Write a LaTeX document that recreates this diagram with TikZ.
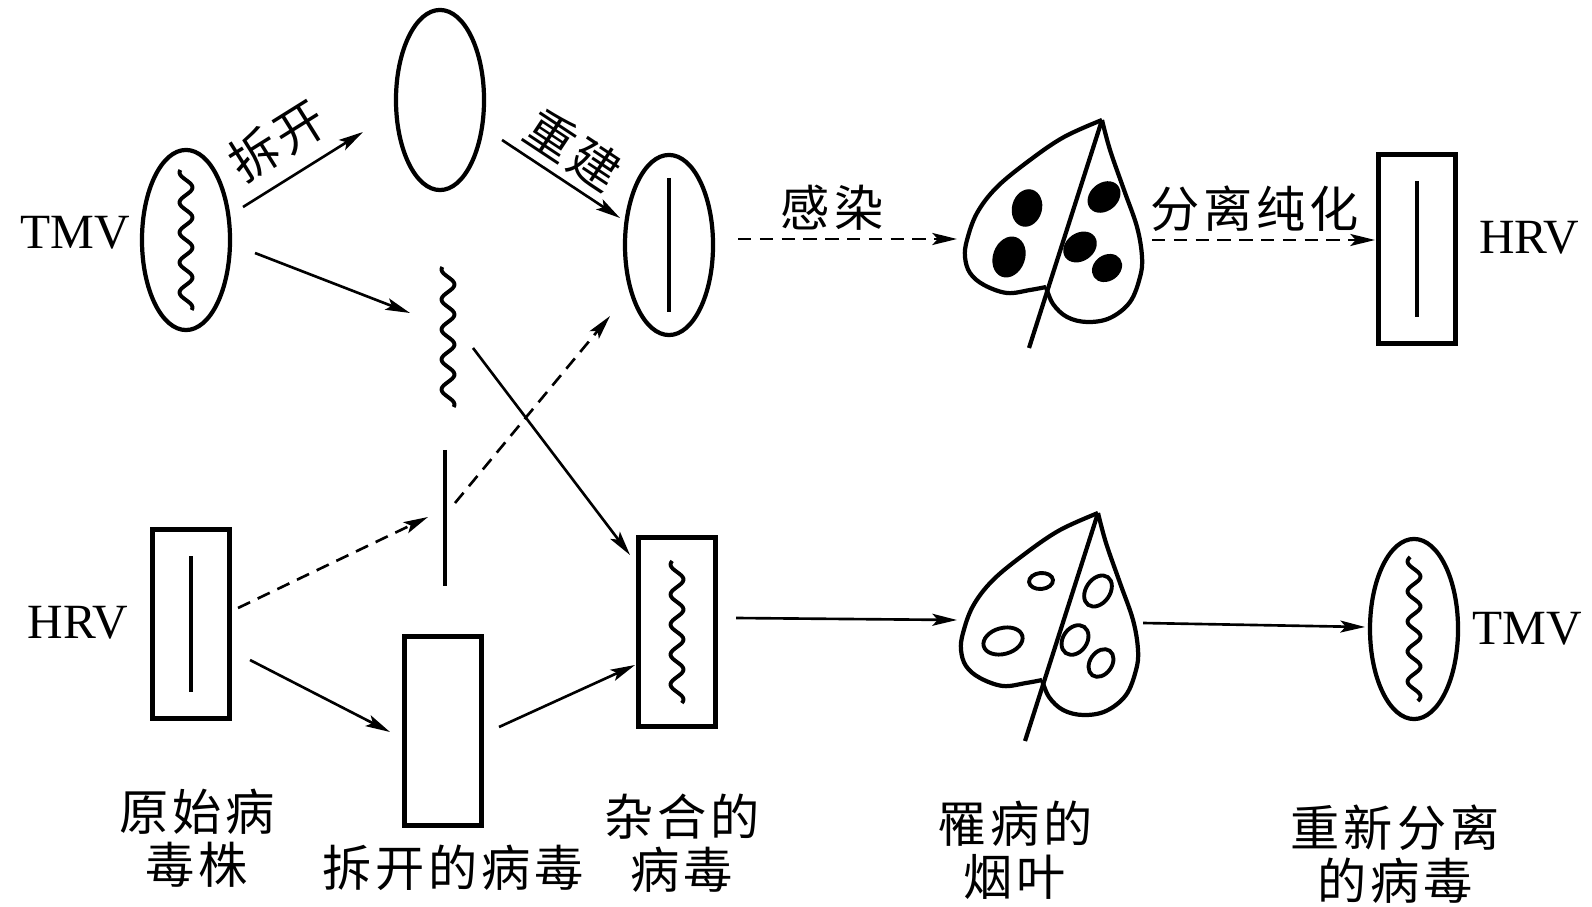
\documentclass[tikz,border=0pt]{standalone}
\usepackage{fontspec}
\setmainfont{Liberation Serif}
\newfontfamily\cjk[LetterSpace=8]{Noto Sans CJK SC}
\usetikzlibrary{arrows.meta,positioning,shapes.geometric}

\tikzset{
  shell/.style={draw, line width=1.2pt, inner sep=0pt, minimum width=0.88cm, minimum height=1.8cm},
  rod/.style={shell, ellipse},
  box/.style={shell, rectangle, minimum width=0.77cm, minimum height=1.89cm},
  rna/.style={line width=1.1pt},
  arr/.style={line width=0.75pt, -{Stealth[length=7pt, width=3.4pt, inset=1.5pt]}},
  darr/.style={arr, dash pattern=on 3.8pt off 2.4pt},
  lab/.style={font=\cjk\fontsize{14}{15.1}\selectfont, inner sep=0pt, align=center},
  virus/.style={font=\fontsize{14}{16}\selectfont, inner sep=0pt},
  leafline/.style={line width=1.2pt, line join=round},
}

% wavy RNA (TMV) and straight RNA (HRV), centred on a node or coordinate
\newcommand{\wavy}[2]{\draw[rna, shift={(#1)}] plot[domain=-#2:#2, samples=90, smooth] ({6.5*sin(12*\x)}, \x);}
\newcommand{\straight}[2]{\draw[rna] ([shift={(0,-#2)}]#1) -- ([shift={(0,#2)}]#1);}

% tobacco leaf, drawn from its tip
\newcommand{\leaf}[1]{%
  \begin{scope}[shift={(#1)}, leafline]
    \draw plot[smooth, tension=0.6] coordinates {(0,0) (-38,17) (-72,40) (-105,67) (-125,93) (-135,120) (-137,137) (-132,153) (-118,165) (-95,173) (-72,170) (-56,167)};
    \draw plot[smooth, tension=0.6] coordinates {(-56,167) (-49,184) (-35,197) (-15,202) (8,198) (28,182) (38,157) (40,137) (35,107) (22,70) (8,30) (0,0)};
    \draw (0,0) -- (-73,228);
  \end{scope}}

\begin{document}
\begin{tikzpicture}[x=0.01cm, y=-0.01cm]
\useasboundingbox (0,0) rectangle (1592,907);

% virus particles
\node[rod] (tmvA) at (186,240) {};
\node[rod] (coatA) at (440,100) {};
\node[rod] (mixA) at (669,245) {};
\node[box] (hrvA) at (191,624) {};
\node[box] (coatB) at (443,731) {};
\node[box] (mixB) at (677,632) {};
\node[box] (hrvB) at (1417,249) {};
\node[rod] (tmvB) at (1414,629) {};

% free RNA and leaf tips
\coordinate (rnaA) at (448,337);
\coordinate (rnaB) at (445,518);
\coordinate (leafA) at (1102,120);
\coordinate (leafB) at (1098,513);

\wavy{tmvA.center}{70}
\wavy{rnaA}{70}
\wavy{mixB.center}{71}
\wavy{tmvB.center}{72}
\straight{mixA.center}{67}
\straight{hrvA.center}{68}
\straight{hrvB.center}{68}
\straight{rnaB}{68}

% leaves with spots
\leaf{leafA}
\leaf{leafB}
\begin{scope}[shift={(leafA)}]
  \foreach \x/\y/\a/\b/\r in {-75/88/15/19/-15, -93/137/16/21/-20, 2/77/18/14/40, -22/127/18/14/35, 5/148/16/13/35}
    \fill[shift={(\x,\y)}, rotate=\r] (0,0) ellipse[x radius=\a, y radius=\b];
\end{scope}
\begin{scope}[shift={(leafB)}]
  \foreach \x/\y/\a/\b/\r in {-57/68/12/8/5, -95/128/20/13/15, 0/78/17/12/55, -23/127/16/12/55, 3/150/15/11/55}
    \draw[line width=1.1pt, shift={(\x,\y)}, rotate=\r] (0,0) ellipse[x radius=\a, y radius=\b];
\end{scope}

% names
\node[virus, left=0.09cm of tmvA, yshift=0.07cm] (tmvAname) {TMV};
\node[virus, left=0.22cm of hrvA, yshift=0.01cm] (hrvAname) {HRV};
\node[virus, right=0.21cm of hrvB, yshift=0.11cm] (hrvBname) {HRV};
\node[virus, right=0.12cm of tmvB] (tmvBname) {TMV};

% arrows
\draw[arr] ([shift={(57,-33)}]tmvA.center) -- node[lab, sloped, above=4pt, pos=0.45] {拆开} ([shift={(-77,32)}]coatA.center);
\draw[arr] ([shift={(62,40)}]coatA.center) -- node[lab, sloped, above=2pt, pos=0.46] {重建} ([shift={(-49,-27)}]mixA.center);
\draw[arr] ([shift={(69,13)}]tmvA.center) -- ([shift={(-38,-24)}]rnaA);
\draw[arr] ([shift={(25,11)}]rnaA) -- ([shift={(-47,-77)}]mixB.center);
\draw[darr] ([shift={(10,-15)}]rnaB) -- ([shift={(-59,71)}]mixA.center);
\draw[darr] ([shift={(47,-16)}]hrvA.center) -- ([shift={(-17,-1)}]rnaB);
\draw[arr] ([shift={(59,36)}]hrvA.center) -- ([shift={(-53,1)}]coatB.center);
\draw[arr] ([shift={(56,-4)}]coatB.center) -- ([shift={(-42,33)}]mixB.center);
\draw[darr] ([shift={(69,-6)}]mixA.center) -- node[lab, above=2pt, pos=0.43] {感染} ([shift={(-145,119)}]leafA);
\draw[darr] ([shift={(50,120)}]leafA) -- node[lab, above=2pt, pos=0.46] {分离纯化} ([shift={(-42,-9)}]hrvB.center);
\draw[arr] ([shift={(59,-14)}]mixB.center) -- ([shift={(-141,107)}]leafB);
\draw[arr] ([shift={(45,110)}]leafB) -- ([shift={(-49,-2)}]tmvB.center);

% captions
\node[lab] (origlab) at (197,838) {原始病\\毒株};
\node[lab] (splitlab) at (453,868) {拆开的病毒};
\node[lab] (mixlab) at (682,843) {杂合的\\病毒};
\node[lab] (sicklab) at (1015,850) {罹病的\\烟叶};
\node[lab] (newlab) at (1395,854) {重新分离\\的病毒};
\end{tikzpicture}
\end{document}
